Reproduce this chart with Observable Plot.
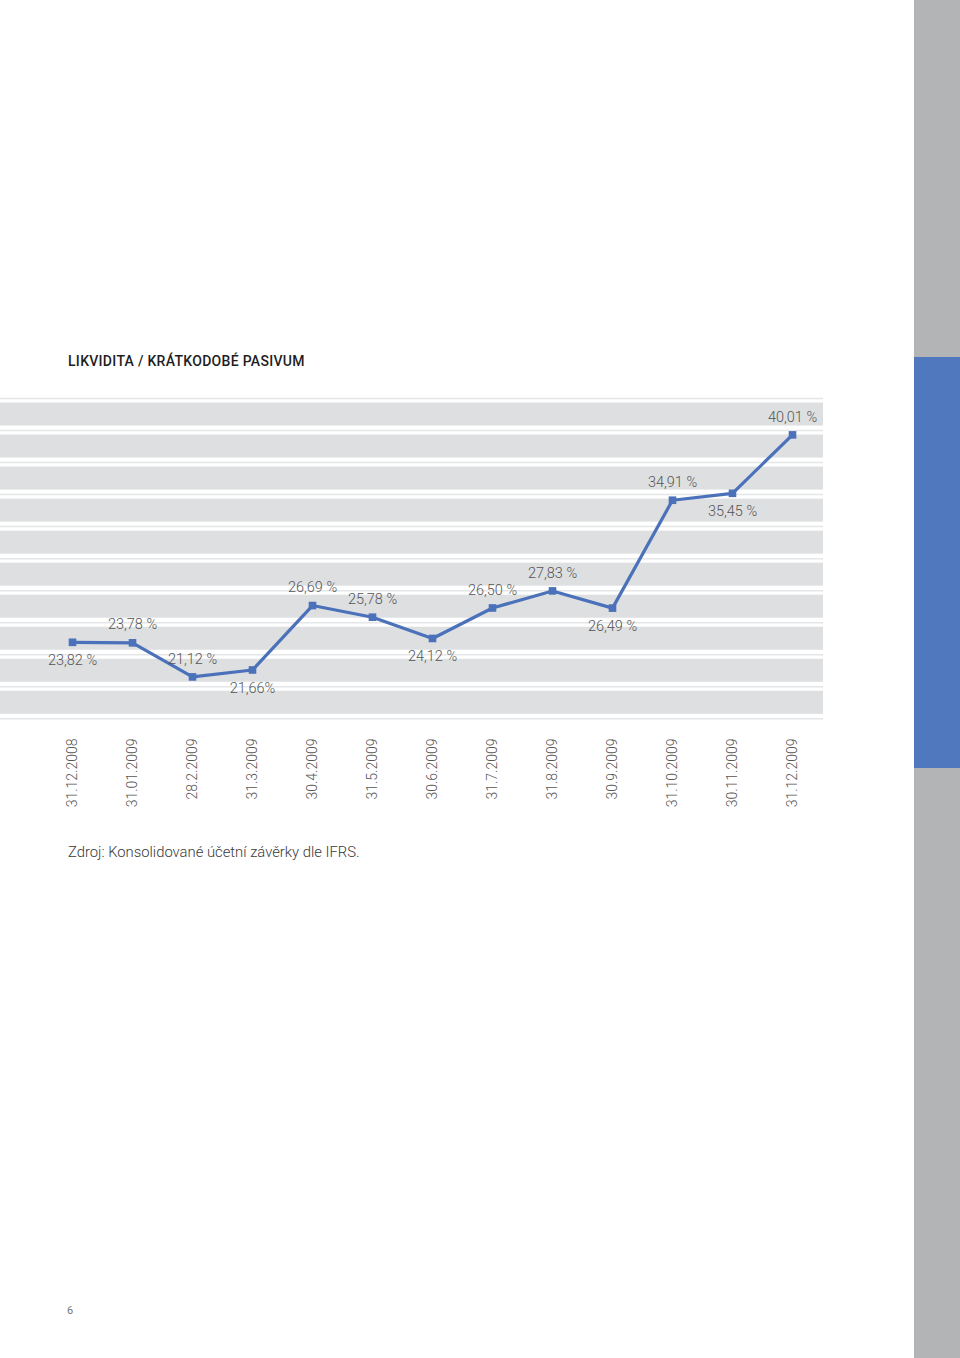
<!DOCTYPE html>
<html>
<head>
<meta charset="utf-8">
<script src="https://cdn.jsdelivr.net/npm/d3@7"></script>
<script src="https://cdn.jsdelivr.net/npm/@observablehq/plot@0.6"></script>
<style>
  html, body { margin: 0; padding: 0; background: #fff; }
  #page { position: relative; width: 960px; height: 1358px; overflow: hidden; font-family: Roboto, "Noto Sans", sans-serif; }
  #title { position: absolute; left: 68px; top: 353px; font-size: 14px; font-weight: 500; color: #1e1e1e; letter-spacing: 0.3px; }
  #chart { position: absolute; left: 0; top: 385px; }
  #caption { position: absolute; left: 68px; top: 843px; font-size: 14.8px; font-weight: 300; color: #3a3a3a; }
  #pagenum { position: absolute; left: 67px; top: 1304px; font-size: 11px; color: #777; }
  #sideGray { position: absolute; left: 914px; top: 0; width: 46px; height: 1358px; background: #b3b4b6; }
  #sideBlue { position: absolute; left: 914px; top: 357px; width: 46px; height: 411px; background: #5078be; }
</style>
</head>
<body>
<div id="page">
  <div id="sideGray"></div>
  <div id="sideBlue"></div>
  <div id="title">LIKVIDITA / KRÁTKODOBÉ PASIVUM</div>
  <div id="chart"></div>
  <div id="caption">Zdroj: Konsolidované účetní závěrky dle IFRS.</div>
  <div id="pagenum">6</div>
</div>
<script>
// Categories (x axis tick labels)
const dates = ["31.12.2008","31.01.2009","28.2.2009","31.3.2009","30.4.2009","31.5.2009","30.6.2009","31.7.2009","31.8.2009","30.9.2009","31.10.2009","30.11.2009","31.12.2009"];
// Series values (%)
const values = [23.82, 23.78, 21.12, 21.66, 26.69, 25.78, 24.12, 26.50, 27.83, 26.49, 34.91, 35.45, 40.01];
// Data labels as printed
const labels = ["23,82 %","23,78 %","21,12 %","21,66%","26,69 %","25,78 %","24,12 %","26,50 %","27,83 %","26,49 %","34,91 %","35,45 %","40,01 %"];
// Label side relative to the point
const labelSide = ["below","above","above","below","above","above","below","above","above","below","above","below","above"];
// Horizontal grid line values (hidden y axis)
const gridValues = [17.85, 20.35, 22.85, 25.35, 27.85, 30.35, 32.85, 35.35, 37.85, 40.35, 42.85];

const data = dates.map((d, i) => ({date: d, value: values[i], label: labels[i], side: labelSide[i]}));
const bands = gridValues.slice(0, -1).map((v, i) => ({lo: v, hi: gridValues[i + 1]}));

const blue = "#4a71b9";

const chart = Plot.plot({
  width: 823,
  height: 425,
  marginTop: 0,
  marginBottom: 90,
  marginLeft: 0,
  marginRight: 0,
  style: {fontFamily: "Roboto, 'Noto Sans', sans-serif", fontSize: "14px", color: "#555", background: "transparent", fontWeight: 300},
  x: {type: "point", domain: dates, range: [70, 794], padding: 0, label: null, tickSize: 0, tickRotate: -90, tickPadding: 18},
  y: {domain: [gridValues[0], gridValues[gridValues.length - 1]], range: [333.3, 13], axis: null},
  marks: [
    Plot.rect(bands, {y1: "lo", y2: "hi", fill: "#dedfe1", insetTop: 4.5, insetBottom: 4.5}),
    Plot.ruleY(gridValues, {stroke: "#e4e5e7", strokeWidth: 1.5}),
    Plot.line(data, {x: "date", y: "value", stroke: blue, strokeWidth: 3.2, strokeLinejoin: "round"}),
    Plot.dot(data, {x: "date", y: "value", symbol: "square", r: 4.3, fill: blue, stroke: "none"}),
    Plot.text(data, {filter: d => d.side === "above", x: "date", y: "value", text: "label", dy: -18, fill: "#555", fontSize: 14.5}),
    Plot.text(data, {filter: d => d.side === "below", x: "date", y: "value", text: "label", dy: 18, fill: "#555", fontSize: 14.5})
  ]
});
document.getElementById("chart").appendChild(chart);
</script>
</body>
</html>
